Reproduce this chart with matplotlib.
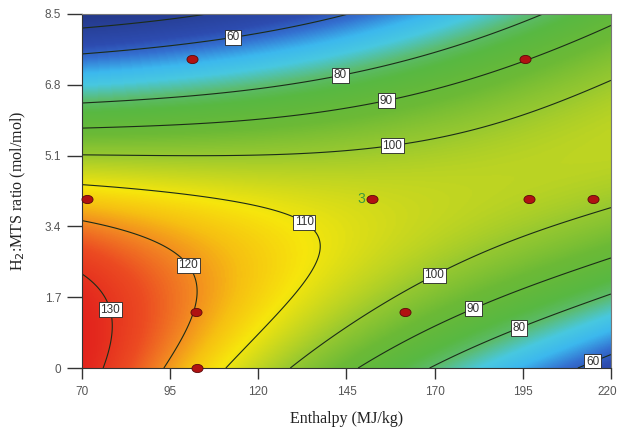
import numpy as np
import matplotlib
matplotlib.use('Agg')
import matplotlib.pyplot as plt
import matplotlib.path as mpath
import matplotlib.transforms as mtrans
from matplotlib.colors import LinearSegmentedColormap

# contour lines: (enthalpy, ratio) points per level
trace_50 = [(70, 8.16), (97.8, 8.48)]
trace_60 = [(70, 7.30), (120.5, 7.92), (150.7, 8.48), (210.4, 0.0), (220, 0.43)]
trace_80 = [(70, 6.34), (120.5, 6.74), (143, 7.15), (177.2, 7.80), (201.8, 8.48),
            (168.7, 0.0), (174.3, 0.24), (193.6, 1.03), (220, 1.63)]
trace_90 = [(70, 5.79), (120.5, 6.03), (155.9, 6.55), (177.2, 6.91), (195.6, 7.42), (219.7, 8.24),
            (148.8, 0.0), (174.3, 1.15), (180.6, 1.51), (203.6, 2.11), (219.7, 2.47)]
trace_100 = [(70, 5.19), (117.6, 5.14), (157.9, 5.40), (171.5, 5.52), (188.5, 5.95), (219.7, 6.91),
             (129.0, 0.0), (131.8, 0.19), (168.7, 2.25), (197, 3.31), (219.7, 3.83)]
trace_110 = [(70, 4.47), (94, 4.23), (117.6, 3.87), (123.3, 3.75), (132.4, 3.41), (135.2, 2.83),
             (134.1, 2.11), (129.9, 1.63), (117.6, 0.51), (111, 0.0)]
trace_120 = [(70, 3.60), (85.5, 3.15), (100, 2.47), (102, 1.80), (100.6, 0.98), (93, 0.0)]
trace_130 = [(70, 2.11), (77.1, 1.46), (77.9, 0.98), (75.1, 0.0)]
traces = {50: trace_50, 60: trace_60, 80: trace_80, 90: trace_90,
          100: trace_100, 110: trace_110, 120: trace_120, 130: trace_130}

# a few spot values estimated away from the lines (enthalpy, ratio, value)
spots = [(70, 8.5, 47), (70, 0.9, 135), (220, 0, 55), (220, 8.5, 88),
         (152, 4.06, 105), (220, 5.3, 102), (190, 0, 71), (175, 8.5, 70)]

# design points
pt_x = [101.2, 195.6, 71.4, 152.2, 196.7, 214.9, 102.3, 161.6, 102.6]
pt_y = [7.42, 7.42, 4.06, 4.06, 4.06, 4.06, 1.34, 1.34, 0.0]

xticks = [70, 95, 120, 145, 170, 195, 220]
yticks = [0, 1.7, 3.4, 5.1, 6.8, 8.5]

# label spots on the lines
label_levels = [60, 80, 90, 100, 110, 120, 130]
label_pos = [(112.8, 7.97), (142.9, 7.2), (155.9, 6.58), (157.9, 5.42), (132.4, 3.41),
             (100.1, 2.47), (77.4, 1.39), (169.2, 2.35), (180.6, 1.51), (193.6, 1.03), (214, 0.31)]

# ---- smooth surface through the read values (poly fit)
X, Y, Z = [], [], []
for lev, pts in traces.items():
    for px, py in pts:
        X.append(px); Y.append(py); Z.append(lev)
for px, py, pz in spots:
    X.append(px); Y.append(py); Z.append(pz)
X = np.array(X); Y = np.array(Y); Z = np.array(Z, dtype=float)

def design(x, y, deg=4):
    u = (x - 145) / 75.0
    v = (y - 4.25) / 4.25
    cols = []
    for i in range(deg + 1):
        for j in range(deg + 1 - i):
            cols.append(u**i * v**j)
    return np.stack(cols, axis=-1)

coef, *_ = np.linalg.lstsq(design(X, Y), Z, rcond=None)

gx = np.linspace(70, 220, 400)
gy = np.linspace(0, 8.5, 400)
GX, GY = np.meshgrid(gx, gy)
GZ = design(GX, GY) @ coef

# Design-Expert like colours
vmin, vmax = 45, 137
stops = [(45, '#243888'), (57, '#2d4cb0'), (62, '#3470d0'), (68, '#3cb8ee'), (73, '#48c8e0'),
         (79, '#5cbc70'), (84, '#58b842'), (93, '#6cba36'), (100, '#96c830'), (106, '#cad81e'),
         (111, '#f6e60c'), (116, '#f6c012'), (121, '#f28422'), (126, '#ec4c22'), (132, '#e42a1e'),
         (137, '#e01a1a')]
cmap = LinearSegmentedColormap.from_list('de', [((v - vmin) / (vmax - vmin), c) for v, c in stops])

plt.rcParams['font.family'] = 'Liberation Sans'
fig = plt.figure(figsize=(6.19, 4.32), dpi=100)
ax = fig.add_axes([0.1325, 0.1481, 0.8545, 0.8195])

ax.imshow(GZ, origin='lower', extent=[70, 220, 0, 8.5], aspect='auto', cmap=cmap,
          vmin=vmin, vmax=vmax, interpolation='bilinear')
cs = ax.contour(GX, GY, GZ, levels=sorted(traces.keys()), colors='#1c2c18', linewidths=0.8)
cs_lab = ax.contour(GX, GY, GZ, levels=label_levels, colors='none', linewidths=0)
labels = ax.clabel(cs_lab, manual=label_pos, inline=False, fontsize=8.5, fmt='%d', colors='#333333')
for t in labels:
    t.set_rotation(0)
    t.set_bbox(dict(facecolor='white', edgecolor='#222222', linewidth=0.6, pad=1.2))

ell = mpath.Path.unit_circle()
ell = mpath.Path(ell.vertices * [1.35, 1.0], ell.codes)
ax.plot(pt_x, pt_y, linestyle='none', marker=ell, markersize=8, markerfacecolor='#b01212',
        markeredgecolor='#5a0a0a', markeredgewidth=0.6, clip_on=False, zorder=5)
ax.text(152.2 - 1.8, 4.06, '3', color='#3c9a3c', fontsize=10, ha='right', va='center')

ax.set_xlim(70, 220)
ax.set_ylim(0, 8.5)
ax.set_xticks(xticks)
ax.set_xticklabels([str(v) for v in xticks])
ax.set_yticks(yticks)
ax.set_yticklabels(['0' if v == 0 else str(v) for v in yticks])
ax.tick_params(axis='x', length=8, width=1, color='#333333', labelsize=8.5, labelcolor='#555555', pad=5)
ax.tick_params(axis='y', length=11, width=1, color='#333333', labelsize=8.5, labelcolor='#555555', pad=4)
# last x label sits at the figure edge, nudge it in a little
last = ax.get_xticklabels()[-1]
last.set_transform(last.get_transform() + mtrans.ScaledTranslation(-3 / 72, 0, fig.dpi_scale_trans))
for s in ['left', 'bottom']:
    ax.spines[s].set_color('#333333')
for s in ['top', 'right']:
    ax.spines[s].set_color('#777777')
    ax.spines[s].set_linewidth(0.8)

ax.set_xlabel('Enthalpy (MJ/kg)', family='Liberation Serif', fontsize=11.5, color='#222222', labelpad=9)
ax.set_ylabel('H$_2$:MTS ratio (mol/mol)', family='Liberation Serif', fontsize=11.5, color='#222222',
              labelpad=12)

fig.savefig('out.png', dpi=100)
